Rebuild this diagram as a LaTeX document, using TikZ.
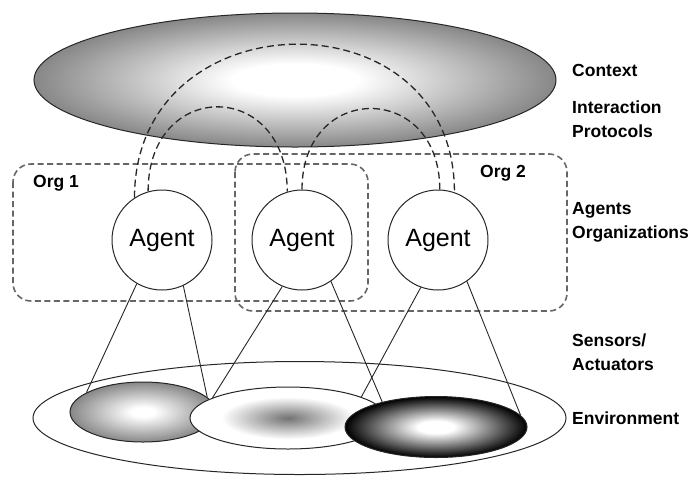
\documentclass[tikz,border=0pt]{standalone}
\usepackage{fontspec}
\setmainfont{Liberation Sans}
\usetikzlibrary{shapes.geometric}

% shadings for the context and the environment regions
\pgfdeclareradialshading{ctxshade}{\pgfpointorigin}{color(0bp)=(white); color(6bp)=(white); color(25bp)=(black!47); color(50bp)=(black!47)}
\pgfdeclareradialshading{midshade}{\pgfpointorigin}{color(0bp)=(black!55); color(17bp)=(white); color(25bp)=(white); color(50bp)=(white)}
\pgfdeclareradialshading{darkshade}{\pgfpointorigin}{color(0bp)=(white); color(5bp)=(white); color(25bp)=(black); color(50bp)=(black)}
\pgfdeclareradialshading{greyshade}{\pgfpointorigin}{color(0bp)=(white); color(4bp)=(white); color(25bp)=(black!47); color(50bp)=(black!47)}

\tikzset{
    agent/.style={circle, draw=black!85, line width=1pt, fill=white, minimum size=100pt, inner sep=0pt, font=\fontsize{25}{30}\selectfont},
    org/.style={draw=black!60, line width=1.6pt, dash pattern=on 6pt off 3.5pt, rounded corners=18pt},
    orgname/.style={anchor=west, inner sep=0pt, font=\bfseries\fontsize{17.5}{21}\selectfont},
    proto/.style={draw=black!85, line width=1.3pt, dash pattern=on 7pt off 4pt},
    region/.style={ellipse, draw=black!85, line width=1pt, inner sep=0pt},
    sense/.style={draw=black!85, line width=0.9pt},
    layer/.style={anchor=west, align=left, inner sep=0pt, font=\bfseries\fontsize{17.5}{24}\selectfont}
}

\begin{document}
\begin{tikzpicture}[x=1pt, y=-1pt]
    \useasboundingbox (0,0) rectangle (700,477);

    % Context ellipse at the top
    \node[region, shading=ctxshade, minimum width=522pt, minimum height=134pt] (context) at (295,80) {};

    % Organization boxes
    \draw[org] (13,164) rectangle (368,301);
    \draw[org] (235,154) rectangle (567,311);
    \node[orgname] (org1) at (33,183) {Org 1};
    \node[orgname] (org2) at (480,173) {Org 2};

    % Agents
    \node[agent] (a1) at (162,240) {Agent};
    \node[agent] (a2) at (302,240) {Agent};
    \node[agent] (a3) at (438,240) {Agent};

    % Interaction protocols between the agents
    \draw[proto] (a1.123) .. controls +(0,-201) and +(0,-201) .. (a3.71);
    \draw[proto] (a1.106) .. controls +(0,-113) and +(0,-113) .. (a2.107);
    \draw[proto] (a2.90) .. controls +(0,-108) and +(0,-108) .. (a3.88);

    % Environment and its parts
    \node[region, minimum width=533pt, minimum height=113pt] (env) at (299.5,418) {};
    \node[region, shading=greyshade, minimum width=146pt, minimum height=60pt] (e1) at (143,412) {};
    \node[region, shading=midshade, minimum width=196pt, minimum height=62pt] (e2) at (288,418) {};
    \node[region, shading=darkshade, minimum width=182pt, minimum height=61pt] (e3) at (436,427) {};

    % Sensors and actuators
    \draw[sense] (a1.240) -- (e1.161);
    \draw[sense] (a1.295) -- (e1.13);
    \draw[sense] (a2.247) -- (e2.165);
    \draw[sense] (a2.305) -- (e3.155);
    \draw[sense] (a3.250) -- (e2.16);
    \draw[sense] (a3.305) -- (e3.8);

    % Layer names on the right
    \node[layer] (ctxname) at (572,70) {Context};
    \node[layer] (ipname) at (572,119) {Interaction\\Protocols};
    \node[layer] (aoname) at (572,222) {Agents\\Organizations};
    \node[layer] (saname) at (572,352) {Sensors/\\Actuators};
    \node[layer] (envname) at (572,418) {Environment};
\end{tikzpicture}
\end{document}
